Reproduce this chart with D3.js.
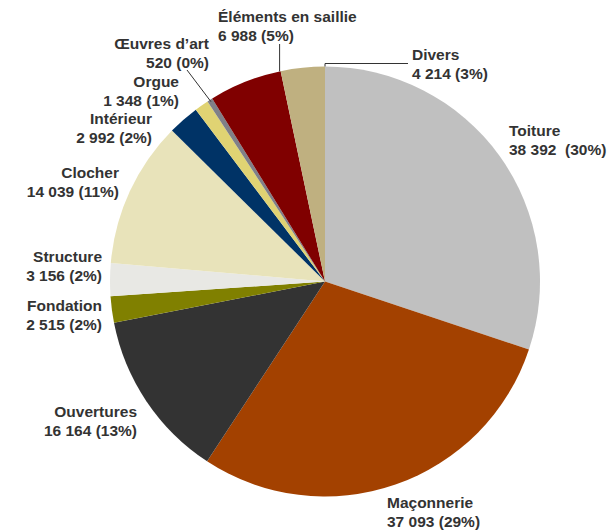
<!DOCTYPE html>
<html>
<head>
<meta charset="utf-8">
<script src="https://cdn.jsdelivr.net/npm/d3@7/dist/d3.min.js"></script>
<style>
  html, body { margin: 0; padding: 0; background: #fff; }
  svg { display: block; }
  text { font-family: "Liberation Sans", Arial, sans-serif; font-weight: bold; font-size: 15.5px; fill: #333; white-space: pre; }
</style>
</head>
<body>
<svg id="chart" width="614" height="531"></svg>
<script>
// ---- Data ----
const categories = ["Toiture", "Maçonnerie", "Ouvertures", "Fondation", "Structure", "Clocher",
                    "Intérieur", "Orgue", "Œuvres d’art", "Éléments en saillie", "Divers"];
const values = [38392, 37093, 16164, 2515, 3156, 14039, 2992, 1348, 520, 6988, 4214];
const colors = ["#C0C0C0", "#A34100", "#333333", "#808000", "#E8E8E4", "#E8E3BA",
                "#003366", "#E0D373", "#808088", "#800000", "#BFB080"];

// ---- Layout (label placement) ----
const labelLayout = [
  { x: 509, y: 136, anchor: "start", sep: "  " },  // Toiture
  { x: 387, y: 508, anchor: "start" },             // Maçonnerie
  { x: 137, y: 417, anchor: "end" },               // Ouvertures
  { x: 102, y: 311, anchor: "end" },               // Fondation
  { x: 102, y: 262, anchor: "end" },               // Structure
  { x: 119, y: 178, anchor: "end" },               // Clocher
  { x: 152, y: 124, anchor: "end" },               // Intérieur
  { x: 179, y: 87,  anchor: "end" },               // Orgue
  { x: 209, y: 49,  anchor: "end" },               // Œuvres d'art
  { x: 218, y: 22,  anchor: "start" },             // Éléments en saillie
  { x: 412, y: 60,  anchor: "start" }              // Divers
];

const cx = 325, cy = 281.5, R = 215;
const svg = d3.select("#chart");
const g = svg.append("g").attr("transform", `translate(${cx},${cy})`);

const total = d3.sum(values);
const data = categories.map((c, i) => ({ name: c, value: values[i], color: colors[i], i }));

const pie = d3.pie().value(d => d.value).sort(null);
const arc = d3.arc().innerRadius(0).outerRadius(R);
const arcs = pie(data);

g.selectAll("path.slice").data(arcs).enter().append("path")
  .attr("class", "slice")
  .attr("d", arc)
  .attr("fill", d => d.data.color);

function edgePoint(a, r) { // a: angle from 12 o'clock clockwise
  return [cx + r * Math.sin(a), cy - r * Math.cos(a)];
}
const divers = arcs[10], elem = arcs[9], oeuv = arcs[8];
const lines = svg.append("g").attr("stroke", "#333").attr("stroke-width", 1).attr("fill", "none");
{
  const p = edgePoint(divers.endAngle, R);
  lines.append("polyline").attr("points", `${p[0]},${p[1]} ${p[0]},63.5 408,63.5`);
}
{
  const p = edgePoint(elem.endAngle - 0.005, R);
  lines.append("line").attr("x1", p[0]).attr("y1", p[1]).attr("x2", p[0]).attr("y2", 44);
}
{
  const a = (oeuv.startAngle + oeuv.endAngle) / 2;
  const p = edgePoint(a, R - 2);
  lines.append("line").attr("x1", p[0]).attr("y1", p[1]).attr("x2", 187).attr("y2", 70);
}

const fmt = v => String(v).replace(/\B(?=(\d{3})+(?!\d))/g, " ");
const labels = svg.append("g");
data.forEach((d, i) => {
  const L = labelLayout[i];
  const pct = Math.round(d.value / total * 100);
  const t = labels.append("text").attr("x", L.x).attr("y", L.y).attr("text-anchor", L.anchor);
  t.append("tspan").attr("x", L.x).text(d.name);
  t.append("tspan").attr("x", L.x).attr("dy", 18.5).text(`${fmt(d.value)}${L.sep || " "}(${pct}%)`);
});
</script>
</body>
</html>
